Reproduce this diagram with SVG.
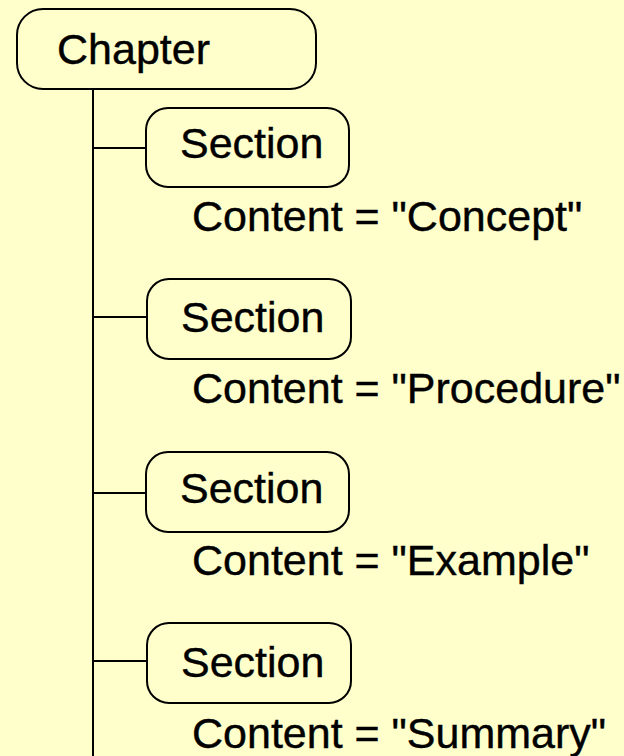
<svg xmlns="http://www.w3.org/2000/svg" width="624" height="756" viewBox="0 0 624 756">
<style>
.box{fill:#FFFFCC;stroke:#000;stroke-width:2}
.t{font-family:"Liberation Sans",Arial,sans-serif;font-size:43px;fill:#000;stroke:#000;stroke-width:0.4}
.c{stroke:#000;stroke-width:2;fill:none}
</style>
<rect width="624" height="756" fill="#FFFFCC"/>
<g id="connectors">
<line class="c" x1="93" y1="89" x2="93" y2="756"/>
<line class="c" x1="92" y1="148" x2="146" y2="148"/>
<line class="c" x1="92" y1="317" x2="147" y2="317"/>
<line class="c" x1="92" y1="493" x2="146" y2="493"/>
<line class="c" x1="92" y1="661" x2="147" y2="661"/>
</g>
<g id="chapter">
<rect class="box" x="17" y="9" width="299" height="80" rx="26"/>
<text class="t" x="57" y="64">Chapter</text>
</g>
<g id="section1">
<rect class="box" x="146" y="108" width="203" height="79" rx="22"/>
<text class="t" x="180" y="158">Section</text>
<text class="t" x="192" y="231">Content = "Concept"</text>
</g>
<g id="section2">
<rect class="box" x="147" y="279" width="204" height="80" rx="22"/>
<text class="t" x="181" y="332">Section</text>
<text class="t" x="192" y="403">Content = "Procedure"</text>
</g>
<g id="section3">
<rect class="box" x="146" y="452" width="203" height="80" rx="22"/>
<text class="t" x="180" y="503">Section</text>
<text class="t" x="192" y="575">Content = "Example"</text>
</g>
<g id="section4">
<rect class="box" x="147" y="623" width="204" height="80" rx="22"/>
<text class="t" x="181" y="677">Section</text>
<text class="t" x="192" y="748">Content = "Summary"</text>
</g>
</svg>
